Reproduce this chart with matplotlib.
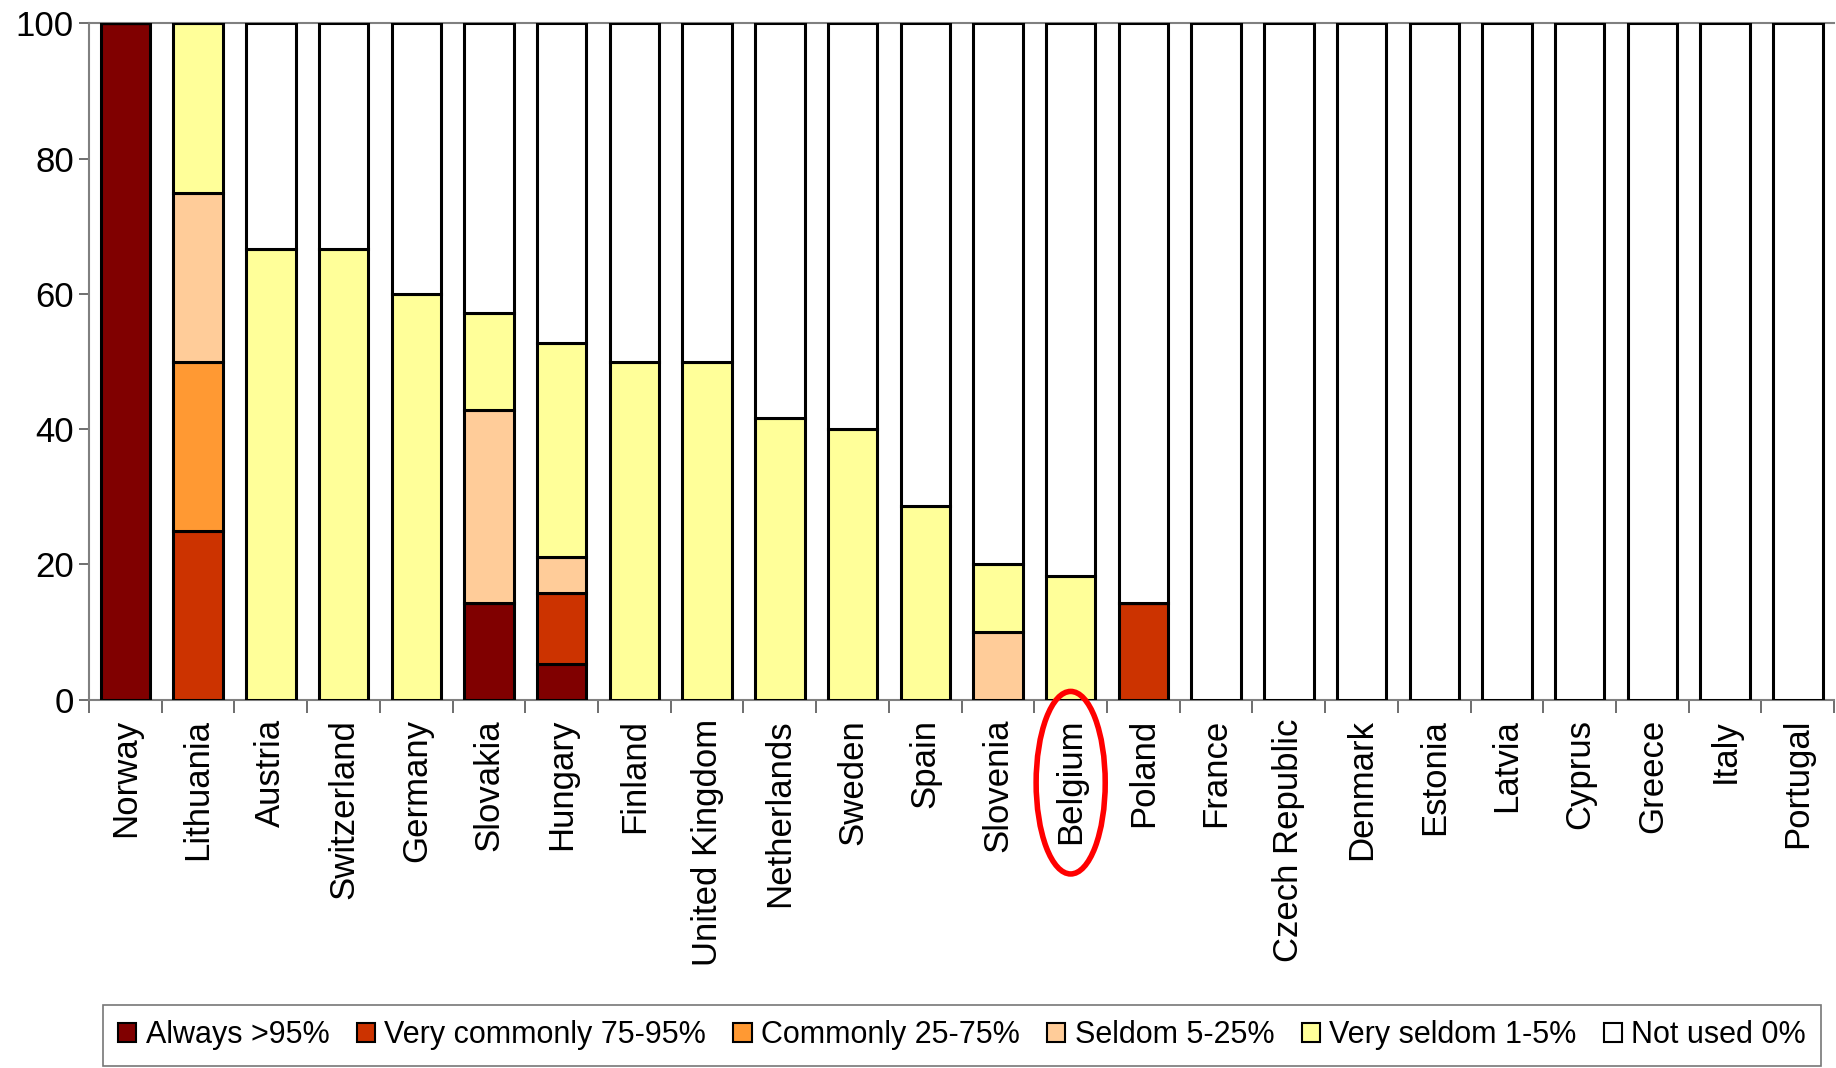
import numpy as np
import matplotlib.pyplot as plt
from matplotlib.patches import Ellipse
import matplotlib.transforms as mtransforms

plt.rcParams['font.family'] = ['Liberation Sans', 'DejaVu Sans']

countries = ['Norway', 'Lithuania', 'Austria', 'Switzerland', 'Germany', 'Slovakia',
             'Hungary', 'Finland', 'United Kingdom', 'Netherlands', 'Sweden', 'Spain',
             'Slovenia', 'Belgium', 'Poland', 'France', 'Czech Republic', 'Denmark',
             'Estonia', 'Latvia', 'Cyprus', 'Greece', 'Italy', 'Portugal']

always = [100, 0, 0, 0, 0, 14.3, 5.3, 0, 0, 0, 0, 0, 0, 0, 0, 0, 0, 0, 0, 0, 0, 0, 0, 0]
very_commonly = [0, 25, 0, 0, 0, 0, 10.5, 0, 0, 0, 0, 0, 0, 0, 14.3, 0, 0, 0, 0, 0, 0, 0, 0, 0]
commonly = [0, 25, 0, 0, 0, 0, 0, 0, 0, 0, 0, 0, 0, 0, 0, 0, 0, 0, 0, 0, 0, 0, 0, 0]
seldom = [0, 25, 0, 0, 0, 28.6, 5.3, 0, 0, 0, 0, 0, 10, 0, 0, 0, 0, 0, 0, 0, 0, 0, 0, 0]
very_seldom = [0, 25, 66.7, 66.7, 60, 14.3, 31.6, 50, 50, 41.7, 40, 28.6, 10, 18.2, 0,
               0, 0, 0, 0, 0, 0, 0, 0, 0]

labels = ['Always >95%', 'Very commonly 75-95%', 'Commonly 25-75%',
          'Seldom 5-25%', 'Very seldom 1-5%', 'Not used 0%']
colors = ['#800000', '#cc3300', '#ff9933', '#ffcc99', '#ffff99', '#ffffff']

series = [np.array(s, dtype=float) for s in
          [always, very_commonly, commonly, seldom, very_seldom]]
not_used = 100 - sum(series)
series.append(not_used)

fig = plt.figure(figsize=(18.36, 10.68), dpi=100)
ax = fig.add_axes([0.0485, 0.345, 0.9505, 0.633])

x = np.arange(len(countries))
bottom = np.zeros(len(countries))
for vals, lab, col in zip(series, labels, colors):
    ax.bar(x, vals, bottom=bottom, width=0.68, color=col, edgecolor='black',
           linewidth=2.2, label=lab, zorder=3)
    bottom += vals

ax.set_xlim(-0.5, len(countries) - 0.5)
ax.set_ylim(0, 100)
ax.set_yticks([0, 20, 40, 60, 80, 100])
ax.tick_params(axis='y', labelsize=25, length=7, width=1.2, color='#555555', pad=4)

# ticks on the category boundaries, labels in the middle
ax.set_xticks(np.arange(-0.5, len(countries), 1.0))
ax.set_xticklabels([])
ax.tick_params(axis='x', which='major', length=9, width=1.2, color='#555555')
ax.set_xticks(x, minor=True)
ax.set_xticklabels(countries, minor=True, rotation=90, fontsize=25)
ax.tick_params(axis='x', which='minor', length=0, pad=14)

for side in ['left', 'top', 'bottom']:
    ax.spines[side].set_color('#808080')
    ax.spines[side].set_linewidth(1.5)
ax.spines['right'].set_visible(False)

# red ring round Belgium
trans = mtransforms.blended_transform_factory(ax.transData, ax.transAxes)
ring = Ellipse((countries.index('Belgium'), -0.123), 0.95, 0.27, transform=trans,
               fill=False, edgecolor='red', linewidth=4, clip_on=False, zorder=5)
ax.add_patch(ring)

leg = fig.legend(loc='upper left', bbox_to_anchor=(0.056, 0.0, 0.936, 0.059),
                 mode='expand', ncol=6, frameon=True, fancybox=False, fontsize=22,
                 handlelength=0.6, handleheight=0.6, handletextpad=0.3,
                 columnspacing=0.4, borderaxespad=0, borderpad=0.5)
leg.get_frame().set_edgecolor('#555555')
leg.get_frame().set_linewidth(1.2)
for h in leg.legend_handles:
    h.set_linewidth(1.5)

fig.savefig('out.png', dpi=100)
